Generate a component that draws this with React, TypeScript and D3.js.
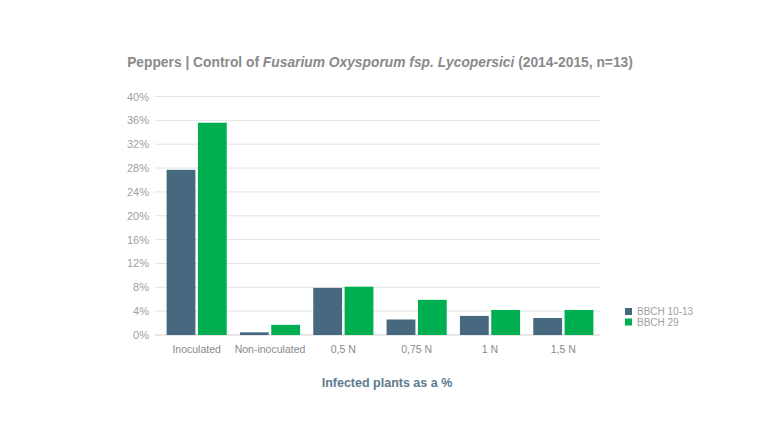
import React from "react";
import * as d3 from "d3";

const categories = ["Inoculated", "Non-inoculated", "0,5 N", "0,75 N", "1 N", "1,5 N"];
const seriesNames = ["BBCH 10-13", "BBCH 29"];
const bbch1013 = [27.7, 0.45, 7.9, 2.6, 3.2, 2.85];
const bbch29 = [35.6, 1.7, 8.1, 5.9, 4.2, 4.2];
const yTicks = [0, 4, 8, 12, 16, 20, 24, 28, 32, 36, 40];
const colors = ["#46697f", "#00b050"];

const W = 768;
const H = 432;
const font = "Liberation Sans, Arial, sans-serif";

const App = () => {
  const x0 = d3.scaleBand<string>().domain(categories).range([160, 600]).paddingInner(0.18).paddingOuter(0.09);
  const x1 = d3.scaleBand<string>().domain(seriesNames).range([0, x0.bandwidth()]).paddingInner(0.08);
  const y = d3.scaleLinear().domain([0, 40]).range([335, 96.5]);
  const series = [bbch1013, bbch29];

  return (
    <svg width={W} height={H} style={{ position: "absolute", left: 0, top: 0, background: "#fff" }}>
      <text x={380} y={67} textAnchor="middle" fontFamily={font} fontSize={13.8} fontWeight="bold" fill="#8a8a8a">
        Peppers | Control of <tspan fontStyle="italic">Fusarium Oxysporum fsp. Lycopersici</tspan> (2014-2015, n=13)
      </text>

      {yTicks.map(t => (
        <g key={t}>
          <line x1={155} x2={600} y1={y(t)} y2={y(t)} stroke={t === 0 ? "#d0d0d0" : "#e3e3e3"} strokeWidth={1} />
          <text x={149} y={y(t) + 4} textAnchor="end" fontFamily={font} fontSize={11} fill="#a0a0a0">
            {t}%
          </text>
        </g>
      ))}

      {categories.map((c, i) => (
        <g key={c} transform={`translate(${x0(c)},0)`}>
          {series.map((s, j) => (
            <rect
              key={j}
              x={x1(seriesNames[j])}
              y={y(s[i])}
              width={x1.bandwidth()}
              height={y(0) - y(s[i])}
              fill={colors[j]}
            />
          ))}
          <text x={x0.bandwidth() / 2} y={353} textAnchor="middle" fontFamily={font} fontSize={10.5} fill="#8a8a8a">
            {c}
          </text>
        </g>
      ))}

      {seriesNames.map((n, j) => (
        <g key={n} transform={`translate(625,${308 + j * 10.5})`}>
          <rect width={7} height={7} fill={colors[j]} />
          <text x={12} y={7} fontFamily={font} fontSize={10} fill="#a0a0a0">
            {n}
          </text>
        </g>
      ))}

      <text x={387} y={387} textAnchor="middle" fontFamily={font} fontSize={12.5} fontWeight="bold" fill="#5c7b90">
        Infected plants as a %
      </text>
    </svg>
  );
};

export default App;
